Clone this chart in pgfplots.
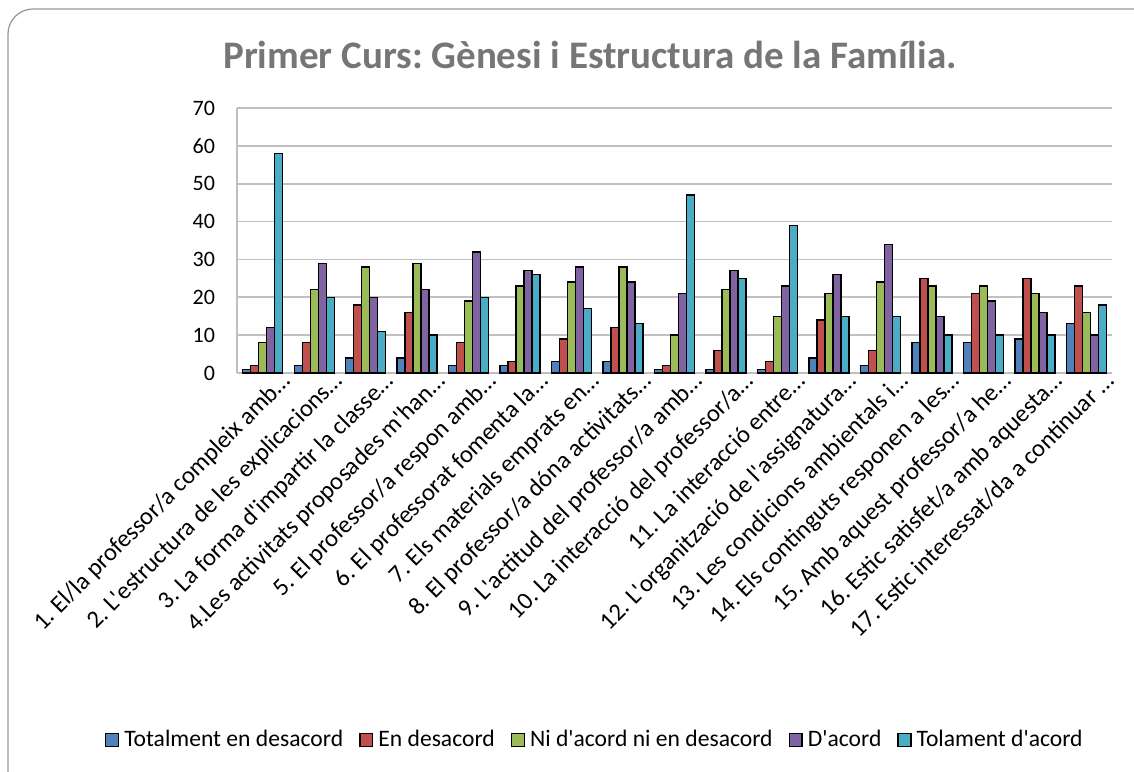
\documentclass[border=0pt]{standalone}
\usepackage{pgfplots}
\pgfplotsset{compat=1.18}
\usepackage{fontspec}
\setmainfont{Carlito}[Ligatures=TeXOff]
\definecolor{c1}{RGB}{79,129,189}
\definecolor{c2}{RGB}{192,80,77}
\definecolor{c3}{RGB}{155,187,89}
\definecolor{c4}{RGB}{128,100,162}
\definecolor{c5}{RGB}{75,172,198}
\definecolor{gridc}{RGB}{192,192,192}
\definecolor{titlec}{RGB}{118,118,118}
\begin{document}
\frenchspacing
\begin{tikzpicture}
\useasboundingbox (0,0) rectangle (567pt,385.5pt);
\draw[color={rgb,255:red,150;green,150;blue,150}, line width=0.6pt, rounded corners=12.5pt] (4pt,-20pt) rectangle (580pt,381pt);
\node[font=\fontsize{19.5pt}{22pt}\selectfont\bfseries, text=titlec] at (295pt,358pt) {Primer Curs: Gènesi i Estructura de la Família.};
\begin{axis}[
  at={(118.5pt,199pt)}, anchor=south west,
  scale only axis, width=437.5pt, height=132.5pt,
  ybar=0pt, bar width=4pt,
  xmin=-0.5, xmax=16.5, ymin=0, ymax=70,
  ytick={0,10,...,70},
  xtick={0,...,16},
  xticklabels={
    {1. El/la professor/a compleix amb…},
    {2. L'estructura de les explicacions…},
    {3. La forma d'impartir la classe…},
    {4.Les activitats proposades m'han…},
    {5. El professor/a respon amb…},
    {6. El professorat fomenta la…},
    {7. Els materials emprats en…},
    {8. El professor/a dóna activitats…},
    {9. L'actitud del professor/a amb…},
    {10. La interacció del professor/a…},
    {11. La interacció entre…},
    {12. L'organització de l'assignatura…},
    {13. Les condicions ambientals i…},
    {14. Els continguts responen a les…},
    {15. Amb aquest professor/a he…},
    {16. Estic satisfet/a amb aquesta…},
    {17. Estic interessat/da a continuar …}},
  xticklabel style={rotate=45, anchor=north east, font=\fontsize{12.3pt}{14pt}\selectfont, inner sep=1pt, xshift=8pt, yshift=-4pt},
  yticklabel style={font=\fontsize{11pt}{13pt}\selectfont, xshift=-7.5pt},
  /pgf/number format/assume math mode=true,
  major tick length=0pt,
  axis x line*=bottom, axis y line*=left,
  axis line style={color=gridc, line width=0.8pt},
  ymajorgrids, major grid style={color=gridc, line width=0.8pt},
  every axis plot/.append style={draw=black, line width=0.7pt},
  legend columns=5,
  legend style={at={(0.409,-1.385)}, anchor=center, draw=none, fill=none,
    font=\fontsize{11.8pt}{13pt}\selectfont, column sep=1.5pt,
    nodes={inner sep=1pt},
    /tikz/every even column/.append style={column sep=7pt}},
  legend image code/.code={\draw[#1, line width=0.7pt] (0pt,-3.2pt) rectangle (6.4pt,3.2pt);},
]
\addplot[fill=c1] coordinates {(0,1)(1,2)(2,4)(3,4)(4,2)(5,2)(6,3)(7,3)(8,1)(9,1)(10,1)(11,4)(12,2)(13,8)(14,8)(15,9)(16,13)};
\addplot[fill=c2] coordinates {(0,2)(1,8)(2,18)(3,16)(4,8)(5,3)(6,9)(7,12)(8,2)(9,6)(10,3)(11,14)(12,6)(13,25)(14,21)(15,25)(16,23)};
\addplot[fill=c3] coordinates {(0,8)(1,22)(2,28)(3,29)(4,19)(5,23)(6,24)(7,28)(8,10)(9,22)(10,15)(11,21)(12,24)(13,23)(14,23)(15,21)(16,16)};
\addplot[fill=c4] coordinates {(0,12)(1,29)(2,20)(3,22)(4,32)(5,27)(6,28)(7,24)(8,21)(9,27)(10,23)(11,26)(12,34)(13,15)(14,19)(15,16)(16,10)};
\addplot[fill=c5] coordinates {(0,58)(1,20)(2,11)(3,10)(4,20)(5,26)(6,17)(7,13)(8,47)(9,25)(10,39)(11,15)(12,15)(13,10)(14,10)(15,10)(16,18)};
\legend{Totalment en desacord, En desacord, Ni d'acord ni en desacord, D'acord, Tolament d'acord}
\end{axis}
\end{tikzpicture}
\end{document}
